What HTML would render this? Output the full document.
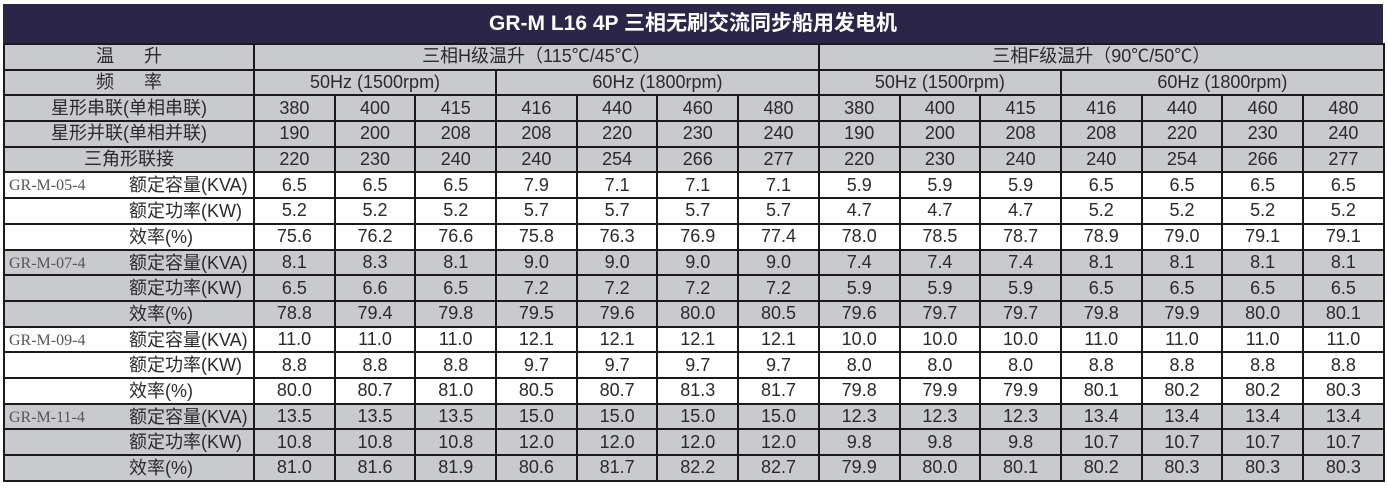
<!DOCTYPE html>
<html><head><meta charset="utf-8"><style>
body{margin:0;width:1388px;height:488px;background:#fff;overflow:hidden;font-family:"Liberation Sans","Noto Sans CJK SC",sans-serif;color:#2a2a2a}
.title{position:absolute;left:3px;top:4px;width:1380px;height:40px;background:#2b2548;color:#fff;font-weight:bold;font-size:21px;text-align:center;line-height:40px}
table{position:absolute;left:3px;top:43px;border-collapse:collapse;table-layout:fixed;width:1380px}
td{border:2px solid #1a1a1a;height:23.7px;padding:0;text-align:center;font-size:18px;line-height:23px;white-space:nowrap;overflow:hidden}
tr.g td{background:#c9cacd}
tr.w td{background:#fff}
td.l{text-align:left;position:relative}
.m{font-family:"Liberation Serif","Noto Serif CJK SC",serif;color:#555;font-size:16px;position:absolute;left:4px;top:1px}
.n{position:absolute;left:124px;top:1px}
</style></head><body>
<div class="title">GR-M L16 4P 三相无刷交流同步船用发电机</div>
<table>
<colgroup><col style="width:250px"><col span="14" style="width:80.7px"></colgroup>
<tr class="g"><td>温&nbsp;&nbsp;&nbsp;&nbsp;&nbsp;&nbsp;升</td><td colspan="7">三相H级温升（115℃/45℃）</td><td colspan="7">三相F级温升（90℃/50℃）</td></tr>
<tr class="g"><td>频&nbsp;&nbsp;&nbsp;&nbsp;&nbsp;&nbsp;率</td><td colspan="3">50Hz (1500rpm)</td><td colspan="4">60Hz (1800rpm)</td><td colspan="3">50Hz (1500rpm)</td><td colspan="4">60Hz (1800rpm)</td></tr>
<tr class="g"><td>星形串联(单相串联)</td><td>380</td><td>400</td><td>415</td><td>416</td><td>440</td><td>460</td><td>480</td><td>380</td><td>400</td><td>415</td><td>416</td><td>440</td><td>460</td><td>480</td></tr>
<tr class="g"><td>星形并联(单相并联)</td><td>190</td><td>200</td><td>208</td><td>208</td><td>220</td><td>230</td><td>240</td><td>190</td><td>200</td><td>208</td><td>208</td><td>220</td><td>230</td><td>240</td></tr>
<tr class="g"><td>三角形联接</td><td>220</td><td>230</td><td>240</td><td>240</td><td>254</td><td>266</td><td>277</td><td>220</td><td>230</td><td>240</td><td>240</td><td>254</td><td>266</td><td>277</td></tr>
<tr class="w"><td class="l"><span class="m">GR-M-05-4</span><span class="n">额定容量(KVA)</span></td><td>6.5</td><td>6.5</td><td>6.5</td><td>7.9</td><td>7.1</td><td>7.1</td><td>7.1</td><td>5.9</td><td>5.9</td><td>5.9</td><td>6.5</td><td>6.5</td><td>6.5</td><td>6.5</td></tr>
<tr class="w"><td class="l"><span class="n">额定功率(KW)</span></td><td>5.2</td><td>5.2</td><td>5.2</td><td>5.7</td><td>5.7</td><td>5.7</td><td>5.7</td><td>4.7</td><td>4.7</td><td>4.7</td><td>5.2</td><td>5.2</td><td>5.2</td><td>5.2</td></tr>
<tr class="w"><td class="l"><span class="n">效率(%)</span></td><td>75.6</td><td>76.2</td><td>76.6</td><td>75.8</td><td>76.3</td><td>76.9</td><td>77.4</td><td>78.0</td><td>78.5</td><td>78.7</td><td>78.9</td><td>79.0</td><td>79.1</td><td>79.1</td></tr>
<tr class="g"><td class="l"><span class="m">GR-M-07-4</span><span class="n">额定容量(KVA)</span></td><td>8.1</td><td>8.3</td><td>8.1</td><td>9.0</td><td>9.0</td><td>9.0</td><td>9.0</td><td>7.4</td><td>7.4</td><td>7.4</td><td>8.1</td><td>8.1</td><td>8.1</td><td>8.1</td></tr>
<tr class="g"><td class="l"><span class="n">额定功率(KW)</span></td><td>6.5</td><td>6.6</td><td>6.5</td><td>7.2</td><td>7.2</td><td>7.2</td><td>7.2</td><td>5.9</td><td>5.9</td><td>5.9</td><td>6.5</td><td>6.5</td><td>6.5</td><td>6.5</td></tr>
<tr class="g"><td class="l"><span class="n">效率(%)</span></td><td>78.8</td><td>79.4</td><td>79.8</td><td>79.5</td><td>79.6</td><td>80.0</td><td>80.5</td><td>79.6</td><td>79.7</td><td>79.7</td><td>79.8</td><td>79.9</td><td>80.0</td><td>80.1</td></tr>
<tr class="w"><td class="l"><span class="m">GR-M-09-4</span><span class="n">额定容量(KVA)</span></td><td>11.0</td><td>11.0</td><td>11.0</td><td>12.1</td><td>12.1</td><td>12.1</td><td>12.1</td><td>10.0</td><td>10.0</td><td>10.0</td><td>11.0</td><td>11.0</td><td>11.0</td><td>11.0</td></tr>
<tr class="w"><td class="l"><span class="n">额定功率(KW)</span></td><td>8.8</td><td>8.8</td><td>8.8</td><td>9.7</td><td>9.7</td><td>9.7</td><td>9.7</td><td>8.0</td><td>8.0</td><td>8.0</td><td>8.8</td><td>8.8</td><td>8.8</td><td>8.8</td></tr>
<tr class="w"><td class="l"><span class="n">效率(%)</span></td><td>80.0</td><td>80.7</td><td>81.0</td><td>80.5</td><td>80.7</td><td>81.3</td><td>81.7</td><td>79.8</td><td>79.9</td><td>79.9</td><td>80.1</td><td>80.2</td><td>80.2</td><td>80.3</td></tr>
<tr class="g"><td class="l"><span class="m">GR-M-11-4</span><span class="n">额定容量(KVA)</span></td><td>13.5</td><td>13.5</td><td>13.5</td><td>15.0</td><td>15.0</td><td>15.0</td><td>15.0</td><td>12.3</td><td>12.3</td><td>12.3</td><td>13.4</td><td>13.4</td><td>13.4</td><td>13.4</td></tr>
<tr class="g"><td class="l"><span class="n">额定功率(KW)</span></td><td>10.8</td><td>10.8</td><td>10.8</td><td>12.0</td><td>12.0</td><td>12.0</td><td>12.0</td><td>9.8</td><td>9.8</td><td>9.8</td><td>10.7</td><td>10.7</td><td>10.7</td><td>10.7</td></tr>
<tr class="g"><td class="l"><span class="n">效率(%)</span></td><td>81.0</td><td>81.6</td><td>81.9</td><td>80.6</td><td>81.7</td><td>82.2</td><td>82.7</td><td>79.9</td><td>80.0</td><td>80.1</td><td>80.2</td><td>80.3</td><td>80.3</td><td>80.3</td></tr>
</table>
</body></html>
